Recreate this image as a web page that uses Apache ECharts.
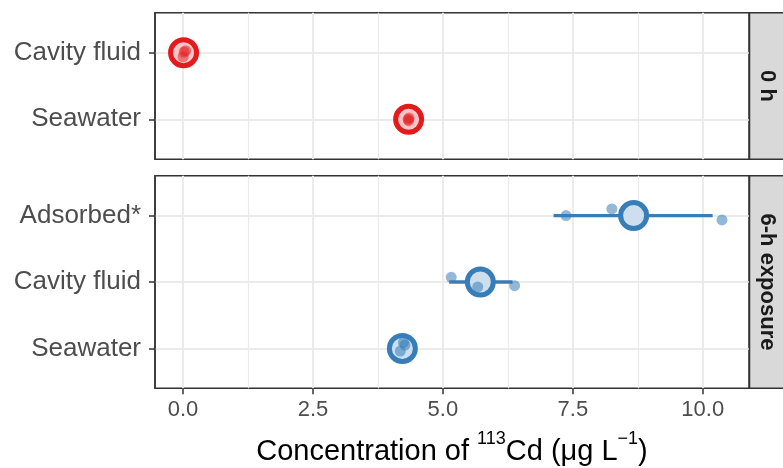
<!DOCTYPE html>
<html><head><meta charset="utf-8">
<script src="https://cdn.jsdelivr.net/npm/echarts@6/dist/echarts.min.js"></script>
<style>html,body{margin:0;padding:0;background:#fff}#c{width:783px;height:468px}</style>
</head><body><div id="c"></div>
<script>
// ---- data (categories listed bottom to top) ----
const panelNames = ['0 h', '6-h exposure'];
const cats0h = ['Seawater', 'Cavity fluid'];
const cats6h = ['Seawater', 'Cavity fluid', 'Adsorbed*'];
// 0 h
const mean0h = [4.34, 0.01];
const lo0h = [4.30, -0.01];
const hi0h = [4.38, 0.03];
const pts0h = [[4.33, 4.35, 4.34], [0.05, 0.00, 0.02]];
const jit0h = [[0.00, 0.02, -0.02], [0.03, -0.06, 0.01]];
// 6-h exposure
const mean6h = [4.22, 5.72, 8.67];
const lo6h = [4.17, 5.12, 7.13];
const hi6h = [4.27, 6.34, 10.19];
const pts6h = [[4.24, 4.18, 4.27], [5.16, 5.67, 6.38], [7.37, 8.25, 10.37]];
const jit6h = [[0.09, -0.04, 0.05], [0.07, -0.075, -0.055], [0.0, 0.1, -0.065]];
// axis ticks
const xMajor = [0, 2.5, 5, 7.5, 10];
const xMinor = [1.25, 3.75, 6.25, 8.75];
const xMin = -0.54, xMax = 10.89;

const FONT = '"Liberation Sans", Arial, sans-serif';
const RED = '#e41a1c', RED_FILL = '#f8c6c6', RED_PT = 'rgba(228,26,28,0.5)';
const BLUE = '#377eb8', BLUE_FILL = '#cddfee', BLUE_PT = 'rgba(55,126,184,0.55)';
const GRIDC = '#ebebeb';

const chart = echarts.init(document.getElementById('c'), null, {renderer: 'canvas'});

function xAx(grid, values, width, labels) {
  return {
    type: 'value', gridIndex: grid, min: xMin, max: xMax, position: 'bottom',
    axisLine: {show: false, onZero: false},
    axisTick: {show: labels, customValues: values, length: 6, lineStyle: {color: '#333333', width: 1.5}},
    axisLabel: {show: labels, customValues: values, margin: 11, fontSize: 22, fontFamily: FONT, color: '#4d4d4d',
      formatter: v => v.toFixed(1)},
    splitLine: {show: true, lineStyle: {color: GRIDC, width: width}}
  };
}
function yAx(grid, cats) {
  const vals = cats.map((c, i) => i + 1);
  return {
    type: 'value', gridIndex: grid, min: 0.4, max: cats.length + 0.6,
    axisLine: {show: true, onZero: false, lineStyle: {color: '#333333', width: 1.5}},
    axisTick: {show: true, customValues: vals, length: 6, lineStyle: {color: '#333333', width: 1.5}},
    axisLabel: {show: true, customValues: vals, margin: 14, fontSize: 26, fontFamily: FONT, color: '#4d4d4d',
      formatter: v => cats[Math.round(v) - 1]},
    splitLine: {show: true, lineStyle: {color: GRIDC, width: 2}}
  };
}
function errSeries(xi, yi, lo, hi, color) {
  return {
    type: 'custom', xAxisIndex: xi, yAxisIndex: yi, z: 1, silent: true,
    data: lo.map((l, i) => [l, hi[i], i + 1]),
    encode: {x: [0, 1], y: 2},
    renderItem: (params, api) => {
      const a = api.coord([api.value(0), api.value(2)]);
      const b = api.coord([api.value(1), api.value(2)]);
      return {type: 'line', shape: {x1: a[0], y1: a[1], x2: b[0], y2: b[1]},
        style: {stroke: color, lineWidth: 3.3}};
    }
  };
}
function meanSeries(xi, yi, mean, color, fill) {
  return {
    type: 'scatter', xAxisIndex: xi, yAxisIndex: yi, z: 2, silent: true,
    data: mean.map((m, i) => [m, i + 1]), symbol: 'circle', symbolSize: 26,
    itemStyle: {color: fill, borderColor: color, borderWidth: 5, opacity: 1}
  };
}
function ptSeries(xi, yi, pts, jit, color) {
  const d = [];
  pts.forEach((arr, i) => arr.forEach((v, j) => d.push([v, i + 1 + jit[i][j]])));
  return {
    type: 'scatter', xAxisIndex: xi, yAxisIndex: yi, z: 3, silent: true,
    data: d, symbol: 'circle', symbolSize: 11, itemStyle: {color: color, opacity: 1}
  };
}

const g0 = {left: 155, top: 12.7, width: 594, height: 146.6};
const g1 = {left: 155, top: 175.7, width: 594, height: 212.6};

function strip(g, label) {
  return [
    {type: 'rect', z: 10, shape: {x: 749.5, y: g.top, width: 40, height: g.height},
      style: {fill: '#d9d9d9', stroke: '#333333', lineWidth: 1.5}},
    {type: 'text', z: 11, x: 767, y: g.top + g.height / 2, rotation: -Math.PI / 2,
      style: {text: label, fontSize: 22, fontWeight: 'bold', fontFamily: FONT, fill: '#1a1a1a',
        align: 'center', verticalAlign: 'middle'}}
  ];
}

const option = {
  animation: false,
  backgroundColor: '#ffffff',
  grid: [
    Object.assign({show: true, borderColor: '#333333', borderWidth: 1.5, backgroundColor: 'transparent', containLabel: false}, g0),
    Object.assign({show: true, borderColor: '#333333', borderWidth: 1.5, backgroundColor: 'transparent', containLabel: false}, g1)
  ],
  xAxis: [
    xAx(0, xMajor, 2, false),
    xAx(0, xMinor, 1.2, false),
    xAx(1, xMajor, 2, true),
    xAx(1, xMinor, 1.2, false)
  ],
  yAxis: [yAx(0, cats0h), yAx(1, cats6h)],
  series: [
    errSeries(0, 0, lo0h, hi0h, RED),
    meanSeries(0, 0, mean0h, RED, RED_FILL),
    ptSeries(0, 0, pts0h, jit0h, RED_PT),
    errSeries(2, 1, lo6h, hi6h, BLUE),
    meanSeries(2, 1, mean6h, BLUE, BLUE_FILL),
    ptSeries(2, 1, pts6h, jit6h, BLUE_PT)
  ],
  graphic: [
    ...strip(g0, panelNames[0]),
    ...strip(g1, panelNames[1]),
    {type: 'text', x: 452, y: 452,
      style: {
        text: '{a|Concentration of }{s|113}{a|Cd (μg L}{s|−1}{a|)}',
        align: 'center', verticalAlign: 'middle',
        rich: {
          a: {fontSize: 29, fontFamily: FONT, fill: '#000000', lineHeight: 44},
          s: {fontSize: 18, fontFamily: FONT, fill: '#000000', lineHeight: 18, verticalAlign: 'top'}
        }
      }}
  ]
};
chart.setOption(option);
</script>
</body></html>
